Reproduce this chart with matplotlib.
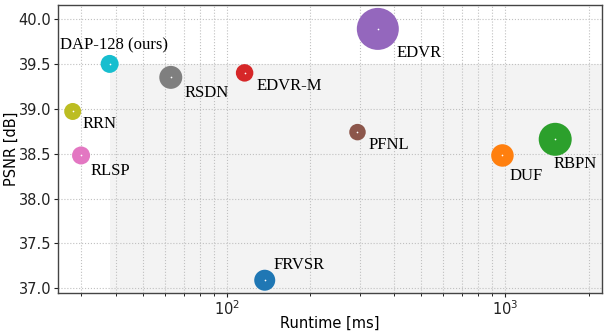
import numpy as np
import matplotlib.pyplot as plt
from matplotlib.patches import Rectangle

# runtime [ms], PSNR [dB], marker diameter [px]
methods = ['DAP-128 (ours)', 'RRN', 'RLSP', 'RSDN', 'EDVR-M', 'EDVR', 'PFNL', 'DUF', 'RBPN', 'FRVSR']
runtime = [38, 28, 30, 63, 116, 349, 295, 978, 1513, 137]
psnr = [39.50, 38.97, 38.48, 39.35, 39.40, 39.89, 38.74, 38.48, 38.66, 37.09]
diam_px = [18, 17, 18, 23, 17.5, 42, 16.5, 22.5, 33, 21]
colors = ['tab:cyan', 'tab:olive', 'tab:pink', 'tab:gray', 'tab:red',
          'tab:purple', 'tab:brown', 'tab:orange', 'tab:green', 'tab:blue']
# label offsets (pixels) from marker centre
label_dx = [4, 10, 9, 14, 12, 19, 11, 7, -2, 9]
label_dy = [19, -13, -16, -16, -13, -24, -13, -21, -25, 15]

DPI = 100
fig = plt.figure(figsize=(6.07, 3.35), dpi=DPI)
ax = fig.add_axes([0.0956, 0.126, 0.896, 0.859])

# shaded region: slower and worse than ours
ax.add_patch(Rectangle((runtime[0], 30), 1e5, psnr[0] - 30,
                       facecolor='#f3f3f3', edgecolor='none', zorder=0.2))

sizes = [(d * 72 / DPI) ** 2 for d in diam_px]
ax.scatter(runtime, psnr, s=sizes, c=colors, linewidths=0, zorder=3)
ax.scatter(runtime, psnr, s=1.5, c='white', linewidths=0, zorder=4)

for i, name in enumerate(methods):
    ha = 'center' if i == 0 else 'left'
    ax.annotate(name, (runtime[i], psnr[i]), xytext=(label_dx[i], label_dy[i]),
                textcoords='offset pixels', ha=ha, va='center',
                fontsize=12, family='Liberation Serif', zorder=5)

ax.set_xscale('log')
ax.set_xlim(24.8, 2226)
ax.set_ylim(36.95, 40.156)
ax.set_yticks(np.arange(37.0, 40.01, 0.5))
ax.set_axisbelow(True)
ax.grid(True, which='both', axis='x', linestyle=':', color='#c0c0c0', linewidth=0.8)
ax.grid(True, which='major', axis='y', linestyle=':', color='#c0c0c0', linewidth=0.8)

ax.tick_params(labelsize=10.5, colors='#222222', length=3, width=0.8, pad=2)
ax.tick_params(which='minor', length=2, width=0.6)
for sp in ax.spines.values():
    sp.set_color('#444444')
    sp.set_linewidth(1.0)

ax.set_xlabel('Runtime [ms]', fontsize=10.5, labelpad=-2)
ax.set_ylabel('PSNR [dB]', fontsize=10.5, labelpad=0)

fig.savefig('out.png', dpi=DPI)
